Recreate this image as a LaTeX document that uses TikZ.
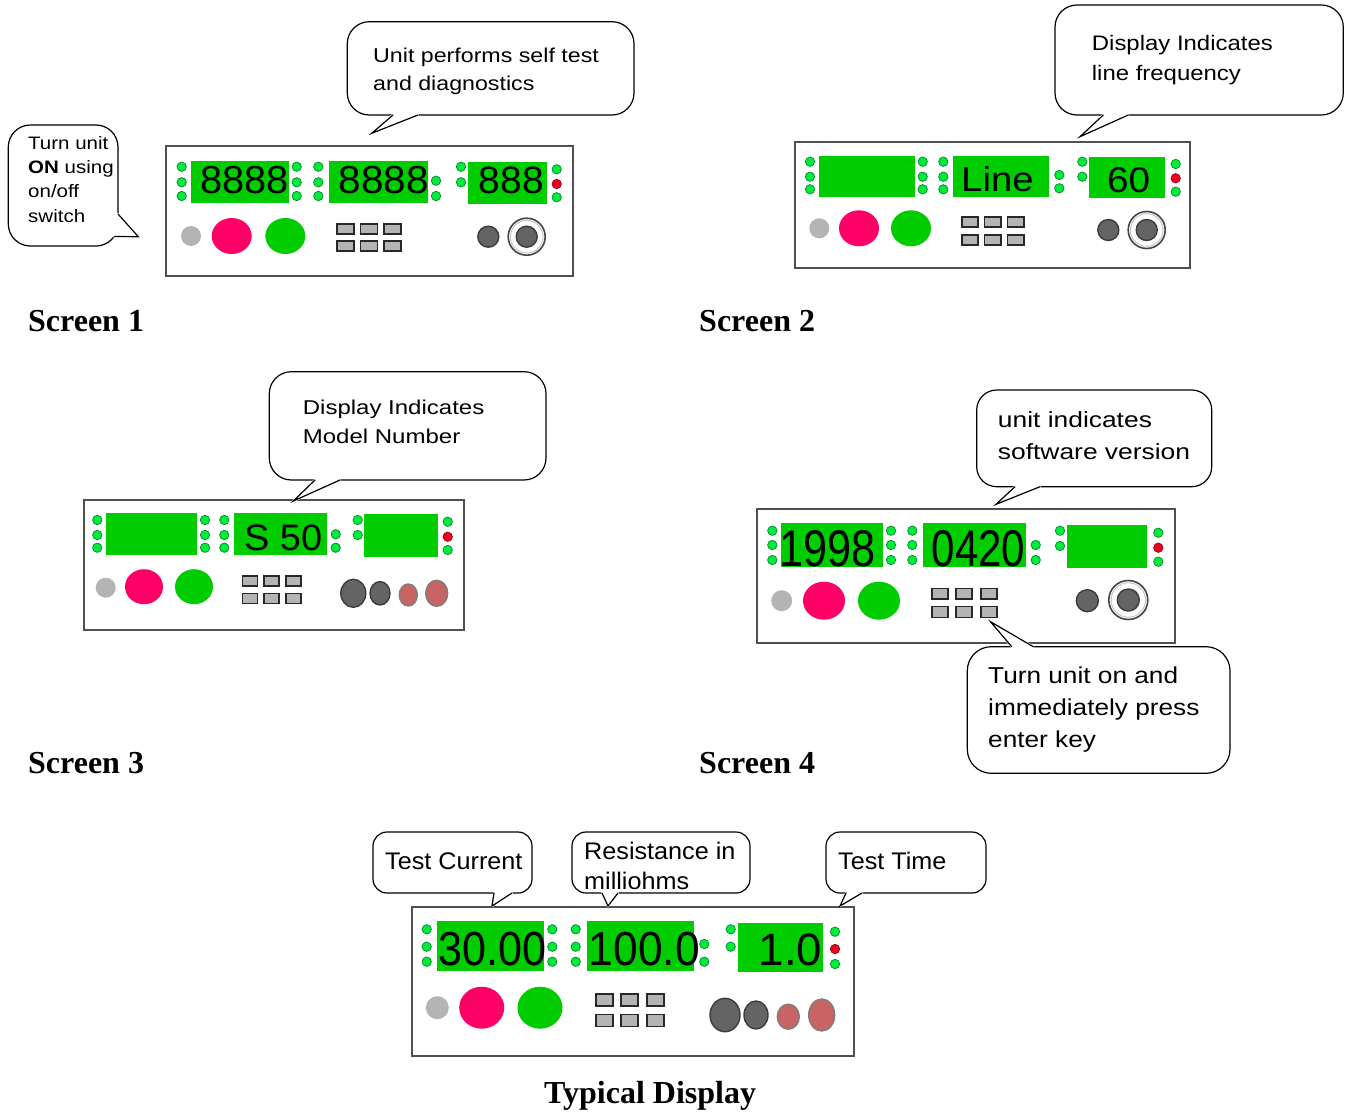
\documentclass[tikz,border=0pt]{standalone}
\usepackage{graphicx}
\usepackage{fontspec}
\setmainfont{Liberation Serif}
\setsansfont{Liberation Sans}
\newfontfamily\lcdfont{Liberation Sans}
\newfontfamily\noteA[FakeStretch=1.14]{Liberation Sans}
\newfontfamily\noteB[FakeStretch=1.16]{Liberation Sans}
\newfontfamily\noteC[FakeStretch=1.2]{Liberation Sans}
\newfontfamily\noteD[FakeStretch=1.05]{Liberation Sans}
\usetikzlibrary{calc}

\definecolor{lcdgreen}{RGB}{0,204,0}
\definecolor{ledgreen}{RGB}{0,235,60}
\definecolor{ledrim}{RGB}{0,140,40}
\definecolor{ledred}{RGB}{240,0,30}
\definecolor{ledredrim}{RGB}{150,0,20}
\definecolor{pinkbtn}{RGB}{255,0,102}
\definecolor{greenbtn}{RGB}{0,204,0}
\definecolor{lampgray}{RGB}{180,180,180}
\definecolor{keygray}{RGB}{180,180,180}
\definecolor{keyrim}{RGB}{40,40,40}
\definecolor{knobgray}{RGB}{100,100,100}
\definecolor{knobrim}{RGB}{60,60,60}
\definecolor{knobred}{RGB}{200,100,100}
\definecolor{knobredrim}{RGB}{125,125,125}
\definecolor{ringdark}{RGB}{70,70,70}
\definecolor{ringlight}{RGB}{200,200,200}
\definecolor{panelrim}{RGB}{80,80,80}

\tikzset{
  panel/.style={draw=panelrim, line width=2pt, fill=white, inner sep=0pt, outer sep=0pt},
  led/.style={fill=ledgreen, draw=ledrim, line width=0.7pt},
  ledr/.style={fill=ledred, draw=ledredrim, line width=0.7pt},
  key/.style={fill=keygray, draw=keyrim, line width=1.6pt},
  knobd/.style={fill=knobgray, draw=knobrim, line width=1.4pt},
  knobr/.style={fill=knobred, draw=knobredrim, line width=1.4pt},
  bubble/.style={draw=black, line width=1.2pt, fill=white},
  bubbleline/.style={draw=black, line width=1.2pt, line cap=round, line join=miter},
  notetext/.style={inner sep=0pt, anchor=base west},
  caption/.style={inner sep=0pt, anchor=base west, font=\bfseries\fontsize{32}{36}\selectfont},
}

% a column of indicator lamps: x, list of y, style
\newcommand\ledcol[3]{\foreach \ly in {#2}{\path[#3] (#1,\ly) circle (4.7pt);}}
% a green readout window
\newcommand\lcd[4]{\fill[lcdgreen] (#1,#2) rectangle (#3,#4);}
% readout digits: name, left, baseline, width, height, text
\newcommand\lcdtext[6]{\node[inner sep=0pt, anchor=base west] (#1) at (#2,#3) {\lcdfont\resizebox{#4pt}{#5pt}{#6}};}
% 3 x 2 key block: x0, y0, pitch x, pitch y, key width, key height
\newcommand\keypad[6]{\foreach \ki in {0,1,2}{\foreach \kj in {0,1}{%
  \path[key] ({#1+\ki*#3},{#2+\kj*#4}) rectangle ++(#5,#6);}}}
% ringed selector knob: x, y, outer, middle, inner radius
\newcommand\ringknob[5]{%
  \path[fill=white, draw=ringdark, line width=1.6pt] (#1,#2) circle (#3pt);
  \path[draw=ringlight, line width=1pt] (#1,#2) circle (#4pt);
  \path[knobd] (#1,#2) circle (#5pt);}
% speech bubble: x1, y1, x2, y2, corner radius, tail base 1, tail tip, tail base 2
\newcommand\bubble[8]{%
  \draw[bubble, rounded corners=#5pt] (#1,#2) rectangle (#3,#4);
  \path[fill=white, draw=white, line width=2.2pt, line join=round] (#6) -- (#7) -- (#8) -- cycle;
  \draw[bubbleline] (#6) -- (#7) -- (#8);}

\begin{document}
\begin{tikzpicture}[x=1pt, y=-1pt]
\useasboundingbox (0,0) rectangle (1351,1111);
\fill[white] (0,0) rectangle (1351,1111);

% ---------------- Screen 1 ----------------
\node[panel, minimum width=407pt, minimum height=130pt] (scr1) at (369.5,211) {};
\lcd{190.7}{160.7}{289.3}{203.3}
\lcd{328.7}{160.7}{427.7}{203.3}
\lcd{468.3}{162.3}{546.7}{204.3}
\ledcol{181.7}{166.7,182.3,196}{led}
\ledcol{296.7}{166.7,182.3,196}{led}
\ledcol{318.3}{166.7,182.3,196}{led}
\ledcol{436}{180.7,196}{led}
\ledcol{461}{166.7,182.3}{led}
\ledcol{556.7}{169.3,197.3}{led}
\ledcol{556.7}{184}{ledr}
\lcdtext{s1a}{200}{193.3}{88.5}{27.3}{8888}
\lcdtext{s1b}{338.5}{193.3}{90}{27.3}{8888}
\lcdtext{s1c}{478.5}{193.3}{65}{26.6}{888}
\fill[lampgray] (191,236) circle (10pt);
\fill[pinkbtn] (231.7,236) ellipse [x radius=20pt, y radius=18pt];
\fill[greenbtn] (285.3,236) ellipse [x radius=20pt, y radius=18pt];
\keypad{336.7}{224}{23.7}{17}{17}{10}
\path[knobd] (488.3,236.7) circle (10.5pt);
\ringknob{526.7}{236.7}{18.5}{16.3}{10.5}

% ---------------- Screen 2 ----------------
\node[panel, minimum width=395pt, minimum height=126.6pt] (scr2) at (992.5,205) {};
\lcd{819}{155.7}{915}{196.7}
\lcd{953.3}{155.7}{1049.3}{196.7}
\lcd{1089.3}{156.7}{1165}{198.3}
\ledcol{810}{161.7,176.7,189.3}{led}
\ledcol{922.7}{161.7,176.7,189.3}{led}
\ledcol{943.3}{161.7,176.7,189.3}{led}
\ledcol{1059.3}{175,188.3}{led}
\ledcol{1082.3}{161.7,176.7}{led}
\ledcol{1175.7}{164,191.7}{led}
\ledcol{1175.7}{178.3}{ledr}
\lcdtext{s2b}{961}{191.7}{72.5}{25}{Line}
\lcdtext{s2c}{1106.8}{192.3}{43}{25}{60}
\fill[lampgray] (819.3,228.3) circle (10pt);
\fill[pinkbtn] (859,228.3) ellipse [x radius=20pt, y radius=18pt];
\fill[greenbtn] (911,228.3) ellipse [x radius=20pt, y radius=18pt];
\keypad{961.7}{216.7}{22.8}{18.3}{16.5}{10}
\path[knobd] (1108.3,230) circle (10.5pt);
\ringknob{1146.7}{230}{18.5}{16.3}{10.5}

% ---------------- Screen 3 ----------------
\node[panel, minimum width=380pt, minimum height=130pt] (scr3) at (274,565) {};
\lcd{105.7}{513.3}{197.3}{555}
\lcd{234.3}{513.3}{326.7}{555}
\lcd{364.3}{514.3}{437.7}{556.7}
\ledcol{97.3}{520,535,547.7}{led}
\ledcol{205}{520,535,547.7}{led}
\ledcol{224.3}{520,535,547.7}{led}
\ledcol{335.7}{534.3,547.7}{led}
\ledcol{357.7}{520,535}{led}
\ledcol{447.7}{521.7,550}{led}
\ledcol{447.7}{536.7}{ledr}
\lcdtext{s3b}{244}{550}{78}{25.7}{S 50}
\fill[lampgray] (105.7,587.7) circle (10pt);
\fill[pinkbtn] (144,586.7) ellipse [x radius=19pt, y radius=17.5pt];
\fill[greenbtn] (194,586.7) ellipse [x radius=19pt, y radius=17.5pt];
\keypad{242.3}{576}{21.9}{17.3}{15}{10}
\path[knobd] (353.3,593.3) ellipse [x radius=12.5pt, y radius=14pt];
\path[knobd] (380,593.3) ellipse [x radius=10pt, y radius=11.7pt];
\path[knobr] (408.3,595) ellipse [x radius=9pt, y radius=11pt];
\path[knobr] (436.7,593.3) ellipse [x radius=11pt, y radius=13pt];

% ---------------- Screen 4 ----------------
\node[panel, minimum width=418.3pt, minimum height=133.4pt] (scr4) at (965.85,576) {};
\lcd{781}{523.3}{883.3}{566.7}
\lcd{923.3}{523.3}{1025.7}{566.7}
\lcd{1067.3}{525}{1147.3}{568.3}
\ledcol{772.3}{530.7,545,560}{led}
\ledcol{891}{530.7,545,560}{led}
\ledcol{912.3}{530.7,545,560}{led}
\ledcol{1035.7}{545,560}{led}
\ledcol{1060}{530.7,546}{led}
\ledcol{1158.3}{532.7,561.7}{led}
\ledcol{1158.3}{547.7}{ledr}
\lcdtext{s4a}{779}{566}{96}{36}{1998}
\lcdtext{s4b}{931.5}{566}{93.5}{36}{0420}
\fill[lampgray] (781.7,600.7) circle (10.5pt);
\fill[pinkbtn] (824,600.7) ellipse [x radius=21pt, y radius=19pt];
\fill[greenbtn] (879,600.7) ellipse [x radius=21pt, y radius=19pt];
\keypad{931.7}{588.3}{24.5}{18.3}{16}{10.7}
\path[knobd] (1087.3,600.7) circle (11pt);
\ringknob{1128.3}{600}{19.5}{17.2}{11}

% ---------------- Typical display ----------------
\node[panel, minimum width=442pt, minimum height=149.3pt] (scr5) at (633.3,981.35) {};
\lcd{436.7}{920.7}{544.3}{970.7}
\lcd{586.7}{920.7}{694.3}{970.7}
\lcd{738.3}{923.3}{823.3}{971.7}
\ledcol{426.7}{929.3,946.7,961.7}{led}
\ledcol{552.3}{929.3,946.7,961.7}{led}
\ledcol{575.7}{929.3,946.7,961.7}{led}
\ledcol{704.3}{944,961.7}{led}
\ledcol{730.7}{929.3,946.7}{led}
\ledcol{835}{931.7,964}{led}
\ledcol{835}{949}{ledr}
\lcdtext{s5a}{438}{965}{108}{33.3}{30.00}
\lcdtext{s5b}{588.5}{965}{111}{33.3}{100.0}
\lcdtext{s5c}{758.5}{965}{63.5}{31.7}{1.0}
\fill[lampgray] (437.3,1007.7) circle (11.5pt);
\fill[pinkbtn] (481.7,1007.7) ellipse [x radius=22.5pt, y radius=21pt];
\fill[greenbtn] (540,1007.7) ellipse [x radius=22.5pt, y radius=21pt];
\keypad{595.7}{994}{25.5}{20.3}{17}{12}
\path[knobd] (725,1015) ellipse [x radius=15pt, y radius=16.7pt];
\path[knobd] (756,1015) ellipse [x radius=12pt, y radius=14pt];
\path[knobr] (788.3,1016.7) ellipse [x radius=11pt, y radius=12.5pt];
\path[knobr] (821.7,1015) ellipse [x radius=13pt, y radius=16pt];

% ---------------- Speech bubbles ----------------
\coordinate (tip0) at (138.3,236.7);
\bubble{8.3}{125}{118}{246}{22}{118,214}{tip0}{114.2,236.5}
\node[notetext] (n0) at (28,149.3) {\noteA\fontsize{18}{24.3}\selectfont
  \begin{tabular}[t]{@{}l@{}}Turn unit\\\textbf{ON} using\\on/off\\switch\end{tabular}};

\coordinate (tip1) at (371.7,133.3);
\bubble{347.3}{21.7}{634}{115}{22}{393,115}{tip1}{418,115}
\node[notetext] (n1) at (373,62) {\noteB\fontsize{20}{28}\selectfont
  \begin{tabular}[t]{@{}l@{}}Unit performs self test\\and diagnostics\end{tabular}};

\coordinate (tip2) at (1080,136.7);
\bubble{1055}{5}{1343.3}{115}{22}{1103.3,115}{tip2}{1128.3,115}
\node[notetext] (n2) at (1091.7,50.7) {\noteA\fontsize{21}{29.3}\selectfont
  \begin{tabular}[t]{@{}l@{}}Display Indicates\\line frequency\end{tabular}};

\coordinate (tip3) at (293.3,501);
\bubble{269.3}{371.7}{546}{480}{22}{315,480}{tip3}{340,480}
\node[notetext] (n3) at (302.7,414.7) {\noteC\fontsize{20}{29}\selectfont
  \begin{tabular}[t]{@{}l@{}}Display Indicates\\Model Number\end{tabular}};

\coordinate (tip4) at (996,504.3);
\bubble{976.7}{390}{1211.7}{486.7}{20}{1015,486.7}{tip4}{1040,486.7}
\node[notetext] (n4) at (997.7,427.5) {\noteC\fontsize{22}{31.7}\selectfont
  \begin{tabular}[t]{@{}l@{}}unit indicates\\software version\end{tabular}};

\coordinate (tip5) at (990.5,621.7);
\bubble{967.3}{646.7}{1230}{773.3}{24}{1011.7,646.7}{tip5}{1033.3,646.7}
\node[notetext] (n5) at (988,683.8) {\noteA\fontsize{23}{31.6}\selectfont
  \begin{tabular}[t]{@{}l@{}}Turn unit on and\\immediately press\\enter key\end{tabular}};

\coordinate (tipA) at (492,906);
\bubble{373}{832}{532}{893}{14}{494,893}{tipA}{512,893}
\node[notetext] (nA) at (385,869.5) {\noteD\fontsize{24}{30}\selectfont Test Current};

\coordinate (tipB) at (608,906);
\bubble{572}{832}{750}{893}{14}{602,893}{tipB}{618,893}
\node[notetext] (nB) at (584,859) {\noteD\fontsize{24}{30}\selectfont
  \begin{tabular}[t]{@{}l@{}}Resistance in\\milliohms\end{tabular}};

\coordinate (tipC) at (840,906);
\bubble{826}{832}{986}{893}{14}{846,893}{tipC}{862,893}
\node[notetext] (nC) at (838,869.5) {\noteD\fontsize{24}{30}\selectfont Test Time};

% ---------------- Captions ----------------
\node[caption] (cap1) at (28,331) {Screen 1};
\node[caption] (cap2) at (699,331) {Screen 2};
\node[caption] (cap3) at (28,773) {Screen 3};
\node[caption] (cap4) at (699,773) {Screen 4};
\node[caption] (cap5) at (544,1103) {Typical Display};
\end{tikzpicture}
\end{document}
